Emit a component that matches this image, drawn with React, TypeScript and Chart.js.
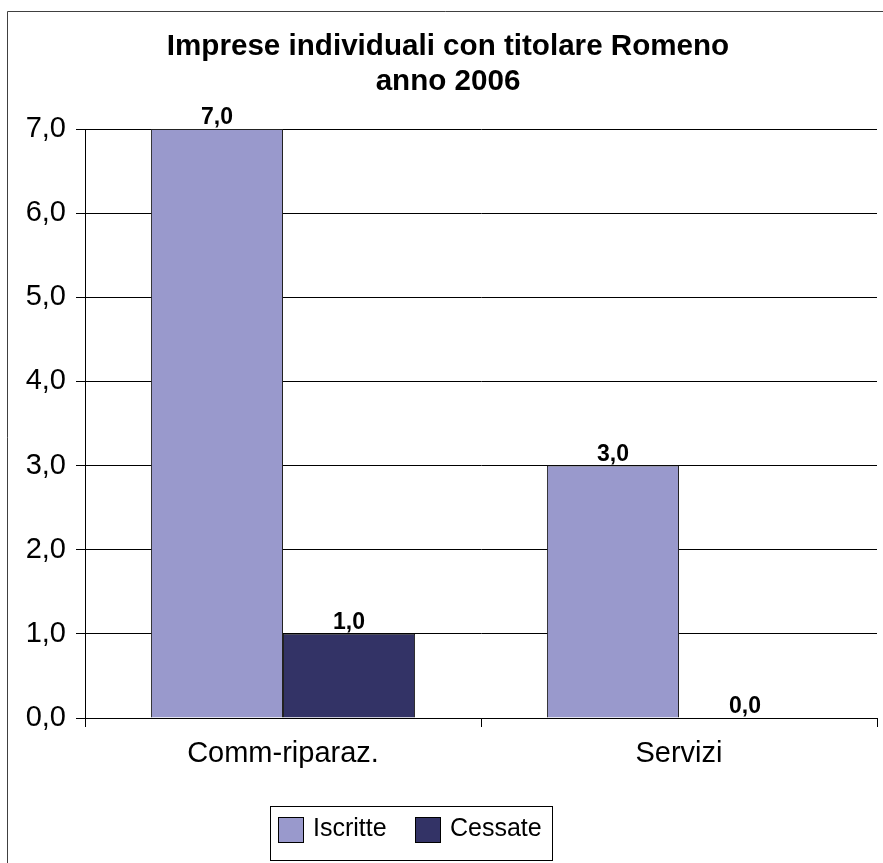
import React, { useEffect, useRef } from 'react';
import { Chart, registerables } from 'chart.js';

Chart.register(...registerables);

const categories = ['Comm-riparaz.', 'Servizi'];
const iscritte = [7, 3];
const cessate = [1, 0];
const seriesNames = ['Iscritte', 'Cessate'];
const seriesColors = ['#9999CC', '#333366'];
const titleLines = ['Imprese individuali con titolare Romeno', 'anno 2006'];
const yMin = 0;
const yMax = 7;
const yStep = 1;

const FONT = "'Liberation Sans', Arial, sans-serif";
const fmt = (v: number) => v.toFixed(1).replace('.', ',');

const decorPlugin = {
  id: 'decor',
  beforeDraw(chart: any) {
    const ctx = chart.ctx;
    ctx.save();
    ctx.fillStyle = '#ffffff';
    ctx.fillRect(0, 0, chart.width, chart.height);
    ctx.strokeStyle = '#404040';
    ctx.lineWidth = 1;
    ctx.beginPath();
    ctx.moveTo(7.5, chart.height);
    ctx.lineTo(7.5, 11.5);
    ctx.lineTo(chart.width, 11.5);
    ctx.stroke();
    ctx.restore();
  },
  afterDraw(chart: any) {
    const ctx = chart.ctx;
    ctx.save();
    // title
    ctx.fillStyle = '#000';
    ctx.font = `bold 29.6px ${FONT}`;
    ctx.textAlign = 'center';
    ctx.textBaseline = 'alphabetic';
    titleLines.forEach((t, i) => ctx.fillText(t, 448, 55 + i * 35));
    // legend
    const lx = 270.5, ly = 806.5, lw = 282, lh = 54;
    ctx.strokeStyle = '#000';
    ctx.lineWidth = 1;
    ctx.strokeRect(lx, ly, lw, lh);
    const swX = [278, 415];
    const txX = [313, 450];
    ctx.font = `25px ${FONT}`;
    ctx.textAlign = 'left';
    seriesNames.forEach((name, i) => {
      ctx.fillStyle = seriesColors[i];
      ctx.fillRect(swX[i] + 0.5, 817.5, 25, 25);
      ctx.strokeStyle = '#000';
      ctx.strokeRect(swX[i] + 0.5, 817.5, 25, 25);
      ctx.fillStyle = '#000';
      ctx.fillText(name, txX[i], 836);
    });
    ctx.restore();
  },
  afterDatasetsDraw(chart: any) {
    const ctx = chart.ctx;
    ctx.save();
    ctx.fillStyle = '#000';
    ctx.font = `bold 23px ${FONT}`;
    ctx.textAlign = 'center';
    ctx.textBaseline = 'alphabetic';
    chart.data.datasets.forEach((ds: any, di: number) => {
      const meta = chart.getDatasetMeta(di);
      meta.data.forEach((el: any, i: number) => {
        ctx.fillText(fmt(ds.data[i]), el.x, el.y - 5);
      });
    });
    ctx.restore();
  },
};

export default function App() {
  const ref = useRef<HTMLCanvasElement | null>(null);
  useEffect(() => {
    if (!ref.current) return;
    const chart = new Chart(ref.current, {
      type: 'bar',
      data: {
        labels: categories,
        datasets: [
          {
            label: seriesNames[0],
            data: iscritte,
            backgroundColor: seriesColors[0],
            borderColor: '#222',
            borderWidth: 1,
          },
          {
            label: seriesNames[1],
            data: cessate,
            backgroundColor: seriesColors[1],
            borderColor: '#222',
            borderWidth: 1,
          },
        ],
      },
      options: {
        responsive: false,
        animation: false,
        layout: { padding: { top: 129, right: 6, left: 0, bottom: 0 } },
        categoryPercentage: 0.667,
        barPercentage: 1,
        plugins: {
          legend: { display: false },
          title: { display: false },
          tooltip: { enabled: false },
        },
        scales: {
          x: {
            offset: true,
            grid: { display: true, drawOnChartArea: false, drawTicks: true, tickLength: 9, color: '#000' },
            border: { display: true, color: '#000' },
            ticks: { color: '#000', font: { family: FONT, size: 29 }, padding: 10, maxRotation: 0 },
            afterFit: (s: any) => { s.height = 145; },
          },
          y: {
            min: yMin,
            max: yMax,
            grid: { color: '#000', tickLength: 9, drawTicks: true },
            border: { display: true, color: '#000' },
            ticks: {
              stepSize: yStep,
              color: '#000',
              font: { family: FONT, size: 29 },
              padding: 10,
              callback: (v: any) => fmt(Number(v)),
            },
            afterFit: (s: any) => { s.width = 85; },
          },
        },
      } as any,
      plugins: [decorPlugin],
    });
    return () => chart.destroy();
  }, []);
  return (
    <div style={{ position: 'absolute', left: 0, top: 0, width: 883, height: 863, overflow: 'hidden' }}>
      <canvas ref={ref} width={883} height={863} style={{ display: 'block' }} />
    </div>
  );
}
